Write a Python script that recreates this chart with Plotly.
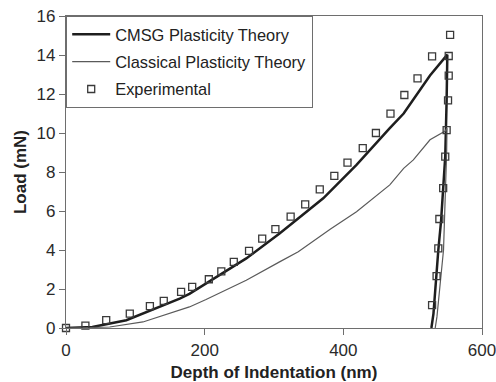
import plotly.graph_objects as go

# CMSG Plasticity Theory (loading then unloading)
cmsg_x = [0, 38, 87, 135, 164, 178, 212, 260, 308, 323, 335, 371, 419, 453, 467, 487, 501, 525, 550,
          549.5, 549, 547, 544, 541, 537, 534, 530, 527]
cmsg_y = [0, 0.05, 0.40, 1.08, 1.51, 1.75, 2.49, 3.57, 4.85, 5.28, 5.62, 6.65, 8.37, 9.74, 10.25, 11.0, 11.7, 12.95, 14.02,
          12.5, 11.7, 8.8, 7.0, 5.5, 4.0, 2.6, 0.74, 0]

# Classical Plasticity Theory (loading then unloading)
class_x = [0, 63, 111, 149, 178, 202, 260, 308, 335, 381, 419, 467, 487, 501, 525, 547, 549.5,
           549, 547, 544.5, 542, 538, 535, 532.5]
class_y = [0, 0.05, 0.31, 0.74, 1.08, 1.46, 2.45, 3.39, 3.91, 5.06, 5.96, 7.34, 8.19, 8.62, 9.65, 10.1, 10.25,
           9.0, 7.1, 4.0, 3.1, 1.6, 0.57, 0]

# Experimental
exp_x = [0, 28, 58, 92, 121, 141, 166, 182, 206, 224, 242, 264, 283, 302, 324, 345, 366, 387, 406, 428, 447, 468,
         488, 507, 528, 554,
         552, 552, 551, 549, 547, 544, 538.5, 537, 534.5, 528]
exp_y = [0, 0.12, 0.40, 0.74, 1.12, 1.39, 1.85, 2.11, 2.50, 2.90, 3.39, 3.96, 4.58, 5.07, 5.71, 6.34, 7.11, 7.80, 8.48, 9.22, 10.0, 10.99,
         11.95, 12.80, 13.93, 15.03,
         13.95, 12.94, 11.67, 10.15, 8.79, 7.17, 5.59, 4.08, 2.66, 1.17]

x_ticks = [0, 200, 400, 600]
y_ticks = [0, 2, 4, 6, 8, 10, 12, 14, 16]

FONT = "Liberation Sans, Arial, sans-serif"

fig = go.Figure()
fig.add_trace(go.Scatter(x=cmsg_x, y=cmsg_y, mode="lines", name="CMSG Plasticity Theory",
                         legendgroup="a", line=dict(color="#1e1e1e", width=2.5), cliponaxis=False))
fig.add_trace(go.Scatter(x=class_x, y=class_y, mode="lines", name="Classical Plasticity Theory",
                         legendgroup="b", line=dict(color="#5a5a5a", width=1.2), cliponaxis=False))
fig.add_trace(go.Scatter(x=exp_x, y=exp_y, mode="markers", name="Experimental",
                         legendgroup="c",
                         marker=dict(symbol="square-open", size=7, color="#3a3a3a", line=dict(width=1.3)),
                         cliponaxis=False))

axis_common = dict(showgrid=False, zeroline=False, showline=True, linecolor="#6e6e6e", linewidth=1.2,
                   mirror=True, ticks="outside", ticklen=6, tickcolor="#6e6e6e", automargin=False,
                   ticklabeloverflow="allow",
                   tickfont=dict(family=FONT, size=17, color="#2a2a2a"))

fig.update_layout(
    width=496, height=382,
    margin=dict(l=66, r=14, t=16, b=54),
    paper_bgcolor="white", plot_bgcolor="white",
    font=dict(family=FONT, color="#222"),
    xaxis=dict(range=[0, 600], tickvals=x_ticks,
               title=dict(text="<b>Depth of Indentation (nm)</b>", font=dict(size=17, color="#222")),
               **axis_common),
    yaxis=dict(range=[0, 16], tickvals=y_ticks,
               title=dict(text="<b>Load (mN)</b>", font=dict(size=17, color="#222"), standoff=5),
               **axis_common),
    legend=dict(x=0, y=1, xanchor="left", yanchor="top", bgcolor="white", itemwidth=38,
                bordercolor="#6e6e6e", borderwidth=1.2, traceorder="grouped", tracegroupgap=3,
                font=dict(size=16.4, color="#222")),
    showlegend=True,
)

fig.write_html("out.html")
